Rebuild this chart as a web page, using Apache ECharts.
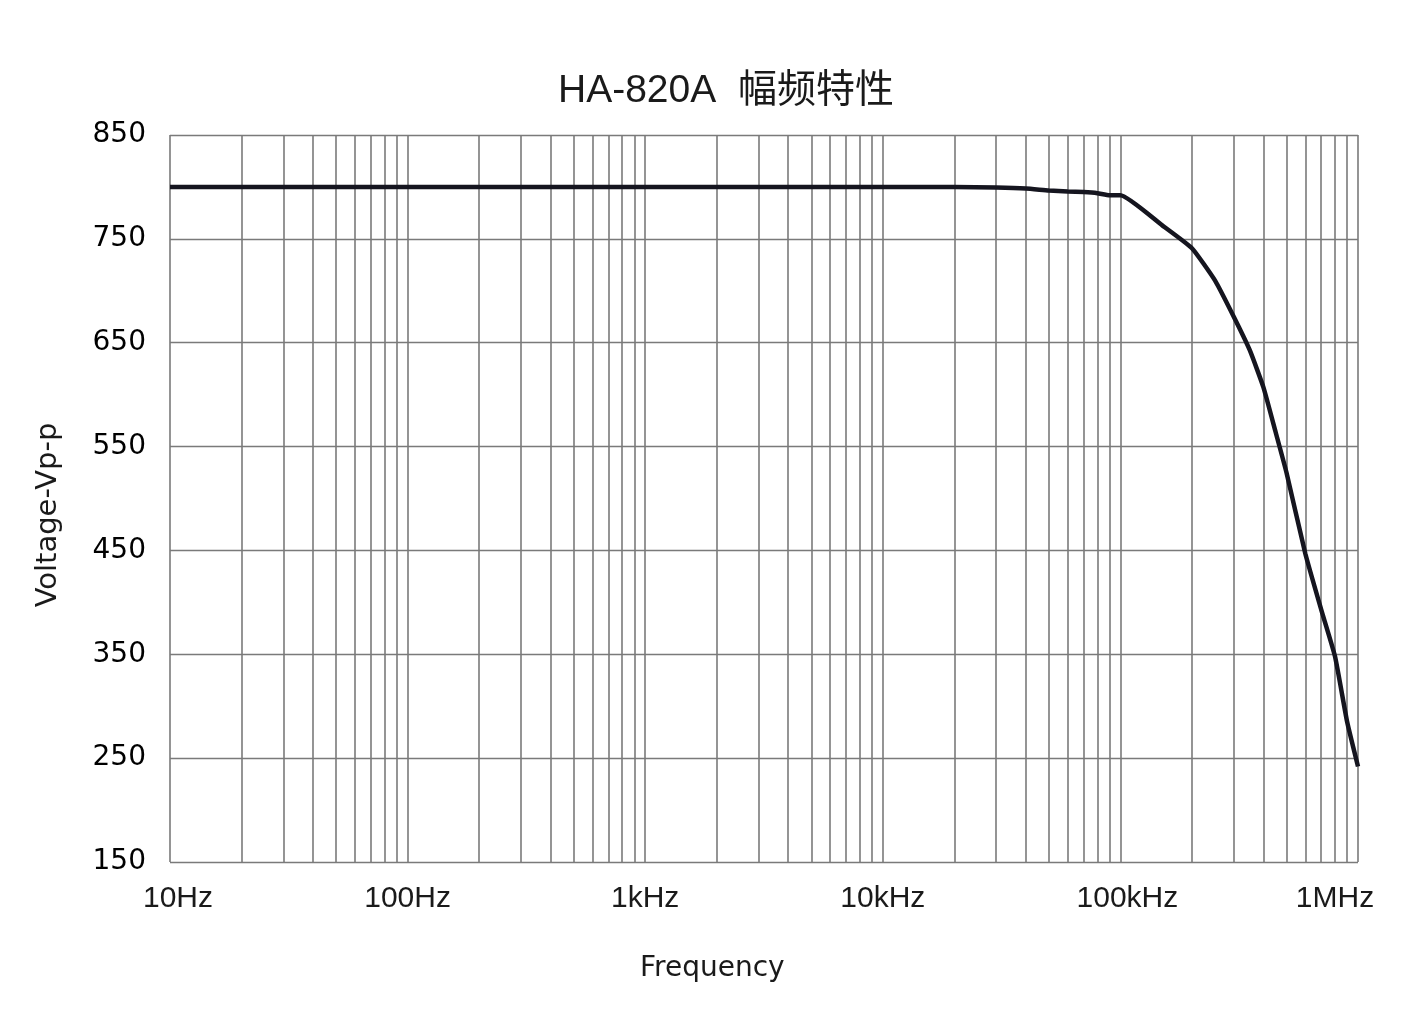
<!DOCTYPE html>
<html>
<head>
<meta charset="utf-8">
<script src="https://cdn.jsdelivr.net/npm/echarts@6/dist/echarts.min.js"></script>
<style>html,body{margin:0;padding:0;background:#fff;}#c{width:1428px;height:1015px;}</style>
</head>
<body>
<div id="c"></div>
<script>
// ---- data ----
const titleText = 'HA-820A  幅频特性';
const xName = 'Frequency';
const yName = 'Voltage-Vp-p';
const xTickLabels = ['10Hz', '100Hz', '1kHz', '10kHz', '100kHz', '1MHz'];
const yTicks = [150, 250, 350, 450, 550, 650, 750, 850];
const gridFreqs = [
  10, 20, 30, 40, 50, 60, 70, 80, 90,
  100, 200, 300, 400, 500, 600, 700, 800, 900,
  1000, 2000, 3000, 4000, 5000, 6000, 7000, 8000, 9000,
  10000, 20000, 30000, 40000, 50000, 60000, 70000, 80000, 90000,
  100000, 200000, 300000, 400000, 500000, 600000, 700000, 800000, 900000,
  1000000
];
const freqs = [10, 100, 1000, 10000, 20000, 30000, 40000, 50000, 60000, 70000, 80000, 90000, 100000,
  150000, 200000, 250000, 300000, 350000, 400000, 450000, 500000, 600000, 700000, 800000, 900000, 1000000];
const voltage = [800, 800, 800, 800, 800, 799.5, 798.5, 796.5, 795.5, 795, 794, 792, 792,
  763, 741, 710, 675, 643, 607, 564, 525, 447, 393, 348, 285, 242];

// ---- chart ----
const chart = echarts.init(document.getElementById('c'));
const gridColor = '#7a7a7a';
const lineData = freqs.map((f, i) => [f, voltage[i]]);
const markData = [];
gridFreqs.forEach(f => markData.push({ xAxis: f, lineStyle: { color: gridColor, width: 1.6, type: 'solid' } }));
yTicks.forEach(v => markData.push({ yAxis: v, lineStyle: { color: gridColor, width: 1.3, type: 'solid' } }));

const xLabelFont = { fontSize: 30, color: '#1a1a1a', fontFamily: "'Liberation Sans', sans-serif" };

chart.setOption({
  animation: false,
  backgroundColor: '#ffffff',
  title: [
    {
      text: titleText, left: 553, top: 67, padding: 5,
      textStyle: { fontSize: 39, fontWeight: 'normal', color: '#1a1a1a',
        fontFamily: "'Liberation Sans', 'Noto Sans CJK SC', sans-serif" }
    },
    {
      text: xName, left: 635, top: 950, padding: 5,
      textStyle: { fontSize: 28, fontWeight: 'normal', color: '#1a1a1a',
        fontFamily: "'DejaVu Sans', sans-serif" }
    }
  ],
  graphic: [
    {
      type: 'text', x: 48, y: 515, rotation: Math.PI / 2,
      style: { text: yName, fontSize: 29, fontFamily: "'DejaVu Sans', sans-serif",
        fill: '#1a1a1a', align: 'center', verticalAlign: 'middle' }
    }
  ],
  grid: { left: 170, right: 70, top: 135, bottom: 153, containLabel: false },
  xAxis: {
    type: 'log', logBase: 10, min: 10, max: 1000000,
    axisLine: { show: false }, axisTick: { show: false }, splitLine: { show: false },
    axisLabel: Object.assign({
      margin: 22,
      formatter: v => {
        const i = Math.round(Math.log10(v)) - 1;
        const t = xTickLabels[i];
        if (t === undefined) return '';
        if (i === 0) return '{first|' + t + '}';
        if (i === 4) return '{shiftR|' + t + '}';
        if (i === xTickLabels.length - 1) return '{last|' + t + '}';
        return t;
      },
      rich: {
        first: Object.assign({ padding: [0, 0, 0, 16] }, xLabelFont),
        shiftR: Object.assign({ padding: [0, 0, 0, 14] }, xLabelFont),
        last: Object.assign({ padding: [0, 46, 0, 0] }, xLabelFont)
      }
    }, xLabelFont)
  },
  yAxis: {
    type: 'value', min: 150, max: 850, interval: 50,
    axisLine: { show: false }, axisTick: { show: false }, splitLine: { show: false },
    axisLabel: {
      margin: 24, fontSize: 28, color: '#000', fontFamily: "'DejaVu Sans', sans-serif",
      formatter: v => (yTicks.indexOf(Math.round(v)) >= 0 ? String(Math.round(v)) : '')
    }
  },
  series: [
    {
      type: 'line', name: 'grid', z: 1, clip: false, silent: true,
      data: [[10, 800]], symbol: 'none', lineStyle: { opacity: 0 },
      markLine: {
        silent: true, symbol: ['none', 'none'], label: { show: false },
        animation: false, data: markData
      }
    },
    {
      type: 'line', name: 'Voltage', z: 5, data: lineData,
      symbol: 'none', smooth: 0.15,
      lineStyle: { color: '#15151f', width: 4.5 }
    }
  ]
});
</script>
</body>
</html>
